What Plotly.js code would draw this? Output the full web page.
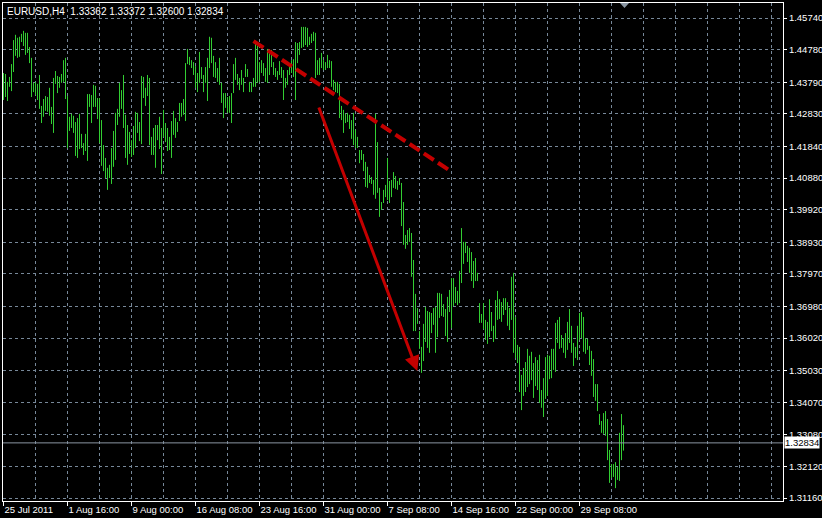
<!DOCTYPE html>
<html><head><meta charset="utf-8">
<script src="https://cdn.plot.ly/plotly-3.0.1.min.js"></script>
<style>html,body{margin:0;padding:0;background:#000;}#chart{width:822px;height:518px;}</style>
</head><body><div id="chart"></div>
<script>
const symbol = 'EURUSD,H4';
const lastBarOHLC = [1.33362, 1.33372, 1.32600, 1.32834];

const highs = [
1.4407,1.4404,1.4380,1.4395,1.4434,1.4507,1.4523,1.4514,1.4517,1.4526,
1.4535,1.4529,1.4529,1.4486,1.4453,1.4377,1.4380,1.4374,1.4401,1.4307,
1.4328,1.4337,1.4334,1.4362,1.4304,1.4392,1.4413,1.4398,1.4395,1.4404,
1.4446,1.4453,1.4337,1.4274,1.4283,1.4277,1.4258,1.4270,1.4283,1.4222,
1.4194,1.4222,1.4343,1.4343,1.4340,1.4371,1.4368,1.4331,1.4331,1.4264,
1.4188,1.4149,1.4119,1.4128,1.4179,1.4231,1.4286,1.4298,1.4377,1.4355,
1.4401,1.4280,1.4249,1.4228,1.4203,1.4246,1.4289,1.4286,1.4258,1.4398,
1.4395,1.4362,1.4401,1.4392,1.4213,1.4240,1.4249,1.4249,1.4274,1.4240,
1.4295,1.4255,1.4240,1.4213,1.4261,1.4292,1.4270,1.4258,1.4316,1.4316,
1.4328,1.4437,1.4480,1.4456,1.4446,1.4440,1.4428,1.4407,1.4471,1.4425,
1.4401,1.4425,1.4453,1.4517,1.4514,1.4459,1.4440,1.4422,1.4453,1.4377,
1.4346,1.4346,1.4334,1.4337,1.4346,1.4434,1.4453,1.4404,1.4392,1.4416,
1.4392,1.4434,1.4419,1.4380,1.4377,1.4392,1.4501,1.4489,1.4440,1.4446,
1.4437,1.4422,1.4480,1.4468,1.4477,1.4440,1.4422,1.4413,1.4443,1.4425,
1.4416,1.4392,1.4416,1.4425,1.4446,1.4449,1.4501,1.4498,1.4501,1.4547,
1.4547,1.4547,1.4544,1.4517,1.4526,1.4532,1.4529,1.4446,1.4453,1.4468,
1.4446,1.4440,1.4462,1.4446,1.4443,1.4386,1.4380,1.4380,1.4374,1.4307,
1.4295,1.4283,1.4286,1.4280,1.4264,1.4286,1.4234,1.4213,1.4173,1.4173,
1.4161,1.4137,1.4122,1.4097,1.4091,1.4082,1.4283,1.4197,1.4058,1.4015,
1.4052,1.4067,1.4149,1.4079,1.4082,1.4106,1.4094,1.4079,1.4088,1.4073,
1.4015,1.3915,1.3930,1.3936,1.3921,1.3839,1.3736,1.3693,1.3623,1.3575,
1.3645,1.3696,1.3684,1.3681,1.3678,1.3693,1.3696,1.3739,1.3739,1.3736,
1.3705,1.3690,1.3727,1.3748,1.3784,1.3784,1.3757,1.3745,1.3806,1.3936,
1.3894,1.3894,1.3882,1.3876,1.3863,1.3836,1.3845,1.3800,1.3708,1.3675,
1.3708,1.3657,1.3651,1.3720,1.3681,1.3639,1.3717,1.3745,1.3720,1.3711,
1.3723,1.3723,1.3711,1.3693,1.3788,1.3800,1.3666,1.3581,1.3575,1.3490,
1.3511,1.3529,1.3569,1.3548,1.3560,1.3526,1.3544,1.3535,1.3551,1.3444,
1.3480,1.3544,1.3551,1.3548,1.3569,1.3569,1.3648,1.3657,1.3666,1.3611,
1.3602,1.3617,1.3651,1.3690,1.3639,1.3587,1.3575,1.3639,1.3678,1.3681,
1.3666,1.3602,1.3599,1.3578,1.3563,1.3538,1.3462,1.3462,1.3371,1.3350,
1.3374,1.3380,1.3356,1.3262,1.3219,1.3219,1.3225,1.3210,1.3314,1.3371,
1.33372
];

const lows = [
1.4325,1.4334,1.4322,1.4365,1.4352,1.4410,1.4459,1.4453,1.4456,1.4501,
1.4489,1.4462,1.4468,1.4437,1.4334,1.4349,1.4340,1.4325,1.4298,1.4255,
1.4274,1.4292,1.4289,1.4277,1.4252,1.4225,1.4374,1.4346,1.4362,1.4377,
1.4380,1.4328,1.4179,1.4231,1.4240,1.4225,1.4155,1.4149,1.4176,1.4179,
1.4158,1.4170,1.4140,1.4304,1.4255,1.4304,1.4304,1.4267,1.4194,1.4125,
1.4109,1.4088,1.4052,1.4088,1.4070,1.4122,1.4143,1.4249,1.4274,1.4298,
1.4240,1.4149,1.4128,1.4161,1.4152,1.4158,1.4179,1.4225,1.4200,1.4191,
1.4331,1.4307,1.4337,1.4188,1.4158,1.4158,1.4119,1.4203,1.4176,1.4100,
1.4213,1.4197,1.4170,1.4173,1.4149,1.4219,1.4210,1.4228,1.4261,1.4274,
1.4280,1.4261,1.4434,1.4431,1.4422,1.4401,1.4362,1.4349,1.4377,1.4389,
1.4349,1.4377,1.4322,1.4422,1.4437,1.4395,1.4392,1.4380,1.4371,1.4316,
1.4270,1.4301,1.4286,1.4286,1.4255,1.4346,1.4386,1.4371,1.4355,1.4371,
1.4349,1.4395,1.4395,1.4349,1.4349,1.4365,1.4365,1.4377,1.4380,1.4407,
1.4398,1.4380,1.4377,1.4401,1.4425,1.4401,1.4395,1.4386,1.4401,1.4392,
1.4325,1.4362,1.4371,1.4401,1.4407,1.4395,1.4325,1.4437,1.4462,1.4483,
1.4486,1.4492,1.4486,1.4492,1.4498,1.4504,1.4392,1.4401,1.4401,1.4422,
1.4416,1.4416,1.4422,1.4422,1.4365,1.4355,1.4349,1.4346,1.4270,1.4264,
1.4225,1.4255,1.4258,1.4237,1.4207,1.4188,1.4179,1.4179,1.4133,1.4143,
1.4109,1.4061,1.4058,1.4073,1.4070,1.4037,1.4025,1.4043,1.3970,1.3991,
1.4012,1.4030,1.4021,1.4012,1.4030,1.4058,1.4055,1.4052,1.4067,1.3942,
1.3885,1.3873,1.3885,1.3894,1.3788,1.3623,1.3623,1.3645,1.3569,1.3496,
1.3532,1.3590,1.3572,1.3557,1.3617,1.3642,1.3557,1.3605,1.3663,1.3669,
1.3666,1.3608,1.3590,1.3681,1.3632,1.3699,1.3708,1.3702,1.3708,1.3769,
1.3827,1.3860,1.3833,1.3800,1.3775,1.3754,1.3775,1.3775,1.3648,1.3648,
1.3629,1.3596,1.3584,1.3605,1.3623,1.3590,1.3599,1.3657,1.3660,1.3651,
1.3672,1.3687,1.3639,1.3626,1.3657,1.3557,1.3541,1.3526,1.3438,1.3383,
1.3426,1.3438,1.3453,1.3462,1.3474,1.3420,1.3456,1.3444,1.3405,1.3390,
1.3362,1.3417,1.3426,1.3477,1.3480,1.3505,1.3499,1.3587,1.3569,1.3572,
1.3557,1.3541,1.3566,1.3587,1.3557,1.3517,1.3541,1.3535,1.3596,1.3602,
1.3560,1.3554,1.3566,1.3520,1.3487,1.3423,1.3411,1.3380,1.3338,1.3314,
1.3311,1.3305,1.3231,1.3162,1.3177,1.3180,1.3146,1.3171,1.3168,1.3231,
1.32600
];

const xTickIndex = [0, 32, 64, 96, 128, 160, 192, 224, 256, 288];
const xTickLabels = ['25 Jul 2011','1 Aug 16:00','9 Aug 00:00','16 Aug 08:00','23 Aug 16:00',
                     '31 Aug 00:00','7 Sep 08:00','14 Sep 16:00','22 Sep 00:00','29 Sep 08:00'];
const priceTicks = [1.45740,1.44780,1.43790,1.42830,1.41840,1.40880,1.39920,1.38930,
                    1.37970,1.36980,1.36020,1.35030,1.34070,1.33080,1.32120,1.31160];

// drawn objects (bar index, price)
const trendLineX = [125.0, 223.6];
const trendLineY = [1.4504, 1.4109];
const arrowX = [157.4, 206.9];
const arrowY = [1.4307, 1.3502];

const FONT = '"Liberation Sans", Arial, sans-serif';
const FS = 9.5;
const GRID = '#778899';
const lastClose = lastBarOHLC[3];

const bx = [], by = [];
highs.forEach((h, i) => { bx.push(i, i, null); by.push(lows[i], h, null); });

const traces = [{
  type: 'scatter', mode: 'lines', x: bx, y: by,
  line: {color: '#32cd32', width: 1}, hoverinfo: 'skip', connectgaps: false
}];

const layout = {
  width: 822, height: 518,
  margin: {l: 3, r: 39, t: 3, b: 17, pad: 0},
  paper_bgcolor: '#000', plot_bgcolor: '#000',
  showlegend: false,
  font: {family: FONT, size: FS, color: '#ffffff'},
  title: {
    text: symbol + '\u00a0 ' + lastBarOHLC.map(v => v.toFixed(5)).join(' '),
    xref: 'container', x: 7/822, xanchor: 'left',
    yref: 'container', y: 1 - 11/518, yanchor: 'middle',
    font: {family: FONT, size: 10, color: '#ffffff'}
  },
  xaxis: {
    range: [-0.25, 389.75], tickmode: 'array', tickvals: xTickIndex, ticktext: xTickLabels,
    ticks: 'outside', ticklen: 4, tickcolor: '#ffffff', tickwidth: 1,
    tickangle: 0, ticklabelposition: 'outside right', ticklabelstandoff: 0,
    tickfont: {family: FONT, size: FS, color: '#ffffff'},
    showline: true, mirror: true, linecolor: '#ffffff', linewidth: 1,
    showgrid: true, gridcolor: GRID, griddash: '3px,3px', gridwidth: 1,
    minor: {tickmode: 'linear', tick0: 0, dtick: 16, showgrid: true, gridcolor: GRID, griddash: '3px,3px', gridwidth: 1, ticks: ''},
    zeroline: false, fixedrange: true
  },
  yaxis: {
    side: 'right', range: [1.31069, 1.46196],
    tickmode: 'array', tickvals: priceTicks, tickformat: '.5f',
    ticks: 'outside', ticklen: 3, tickcolor: '#ffffff',
    tickfont: {family: FONT, size: FS, color: '#ffffff'},
    showline: true, mirror: true, linecolor: '#ffffff', linewidth: 1,
    showgrid: true, gridcolor: GRID, griddash: '3px,3px', gridwidth: 1,
    zeroline: false, fixedrange: true
  },
  shapes: [
    {type: 'line', xref: 'paper', yref: 'y', x0: 0, x1: 1, y0: lastClose, y1: lastClose,
     line: {color: '#8a96a3', width: 1}},
    {type: 'line', xref: 'x', yref: 'y', x0: trendLineX[0], y0: trendLineY[0], x1: trendLineX[1], y1: trendLineY[1],
     line: {color: '#c40000', width: 4, dash: '12px,5px'}},
    {type: 'path', xref: 'x', yref: 'paper', path: 'M 308.25 1 L 312.75 1 L 310.5 0.99 Z',
     fillcolor: '#8a96a3', line: {width: 0}}
  ],
  annotations: [
    {x: arrowX[1], y: arrowY[1], ax: arrowX[0], ay: arrowY[0],
     xref: 'x', yref: 'y', axref: 'x', ayref: 'y', text: '',
     showarrow: true, arrowhead: 2, arrowsize: 1, arrowwidth: 3, arrowcolor: '#c40000'},
    {xref: 'paper', x: 1, xanchor: 'left', xshift: 1, yref: 'y', y: lastClose, yanchor: 'middle',
     text: lastClose.toFixed(5), showarrow: false, bgcolor: '#ffffff', borderpad: 0,
     font: {family: FONT, size: FS, color: '#000000'}}
  ]
};

Plotly.newPlot('chart', traces, layout, {displayModeBar: false, staticPlot: true});
</script>
</body></html>
